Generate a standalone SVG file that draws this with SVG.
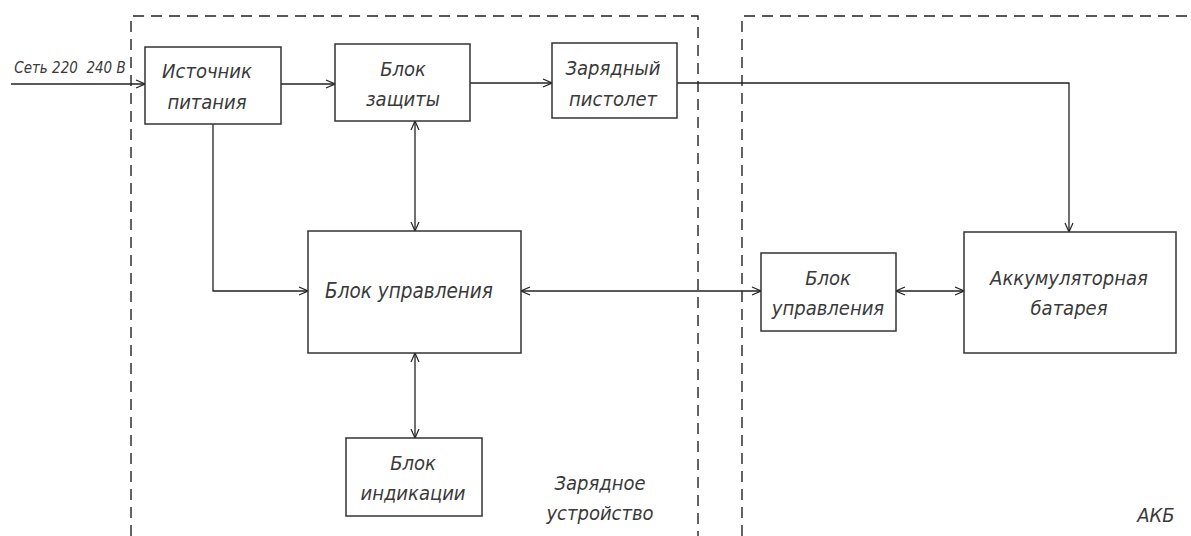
<svg xmlns="http://www.w3.org/2000/svg" width="1191" height="536" viewBox="0 0 1191 536">
<style>
.box{fill:#fff;stroke:#333;stroke-width:1.5}
.dash{fill:none;stroke:#222;stroke-width:1.4;stroke-dasharray:11 7}
.ln{fill:none;stroke:#222;stroke-width:1.3}
text{font-family:"Liberation Sans Narrow","DejaVu Sans Condensed","Liberation Sans",sans-serif;font-style:italic;fill:#3a3a3a;text-anchor:middle}
.t{font-size:20px}
.tb{font-size:20.5px}
.s{font-size:15px;white-space:pre}
</style>
<defs>
<marker id="a" viewBox="0 0 10 10" refX="10" refY="5" markerWidth="10" markerHeight="10" markerUnits="userSpaceOnUse" orient="auto-start-reverse">
<path d="M1,1 L10,5 L1,9" fill="none" stroke="#222" stroke-width="1.2"/>
</marker>
</defs>
<g id="frames">
<path class="dash" d="M131,536 V16 H698 V536"/>
<path class="dash" d="M742,536 V16 H1191"/>
</g>
<g id="connectors">
<line class="ln" x1="11" y1="84" x2="145" y2="84" marker-end="url(#a)"/>
<line class="ln" x1="281" y1="84" x2="335" y2="84" marker-end="url(#a)"/>
<line class="ln" x1="470" y1="83" x2="552" y2="83" marker-end="url(#a)"/>
<polyline class="ln" points="677,83 1069,83 1069,232" marker-end="url(#a)"/>
<line class="ln" x1="415" y1="121" x2="415" y2="231" marker-start="url(#a)" marker-end="url(#a)"/>
<polyline class="ln" points="213,124 213,291 308,291" marker-end="url(#a)"/>
<line class="ln" x1="521" y1="291" x2="761" y2="291" marker-start="url(#a)" marker-end="url(#a)"/>
<line class="ln" x1="896" y1="291" x2="964" y2="291" marker-start="url(#a)" marker-end="url(#a)"/>
<line class="ln" x1="415" y1="353" x2="415" y2="438" marker-start="url(#a)" marker-end="url(#a)"/>
</g>
<text class="s" x="70" y="73" xml:space="preserve">Сеть 220  240 В</text>
<g id="n1"><rect class="box" x="145" y="47" width="136" height="77"/><text class="t" x="207" y="78">Источник</text><text class="t" x="207" y="109">питания</text></g>
<g id="n2"><rect class="box" x="335" y="44" width="135" height="77"/><text class="t" x="403" y="76">Блок</text><text class="t" x="403" y="106">защиты</text></g>
<g id="n3"><rect class="box" x="552" y="43" width="125" height="75"/><text class="t" x="613" y="75">Зарядный</text><text class="t" x="613" y="106">пистолет</text></g>
<g id="n4"><rect class="box" x="308" y="231" width="213" height="122"/><text class="tb" x="409" y="298">Блок управления</text></g>
<g id="n5"><rect class="box" x="761" y="253" width="135" height="78"/><text class="t" x="828" y="285">Блок</text><text class="t" x="828" y="315">управления</text></g>
<g id="n6"><rect class="box" x="964" y="232" width="212" height="121"/><text class="t" x="1069" y="285">Аккумуляторная</text><text class="t" x="1069" y="315">батарея</text></g>
<g id="n7"><rect class="box" x="346" y="438" width="136" height="78"/><text class="t" x="413" y="470">Блок</text><text class="t" x="413" y="500">индикации</text></g>
<text class="t" x="600" y="490">Зарядное</text>
<text class="t" x="600" y="520">устройство</text>
<text class="t" x="1156" y="522">АКБ</text>
</svg>
